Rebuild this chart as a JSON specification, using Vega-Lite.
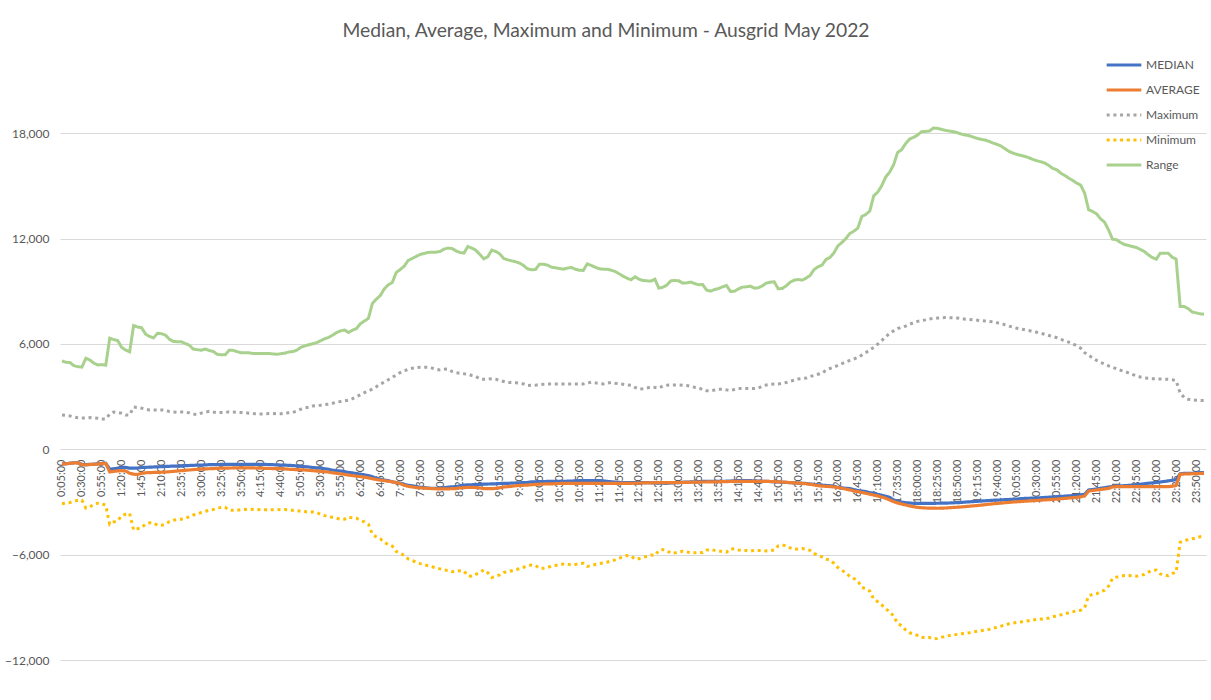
{
"$schema": "https://vega.github.io/schema/vega-lite/v6.json",
"width": 1146, "height": 562,
"autosize": {"type": "none"},
"padding": {"left": 60, "top": 98, "right": 5, "bottom": 40},
"background": "white",
"config": {"view": {"stroke": null}, "font": "Lato"},
"title": {"text": "Median, Average, Maximum and Minimum - Ausgrid May 2022", "anchor": "middle", "dx": -27, "offset": 5, "fontSize": 19.3, "font": "Lato", "fontWeight": "normal", "color": "#595959"},
"data": {"values": [
{"t":"0:05:00","MEDIAN":-840,"AVERAGE":-850,"Maximum":1955,"Minimum":-3100,"Range":5030},
{"t":"0:10:00","MEDIAN":-820,"AVERAGE":-830,"Maximum":1930,"Minimum":-3060,"Range":4950},
{"t":"0:15:00","MEDIAN":-800,"AVERAGE":-800,"Maximum":1898,"Minimum":-3030,"Range":4940},
{"t":"0:20:00","MEDIAN":-770,"AVERAGE":-780,"Maximum":1840,"Minimum":-2960,"Range":4760},
{"t":"0:25:00","MEDIAN":-765,"AVERAGE":-770,"Maximum":1800,"Minimum":-2900,"Range":4700},
{"t":"0:30:00","MEDIAN":-860,"AVERAGE":-880,"Maximum":1785,"Minimum":-2900,"Range":4680},
{"t":"0:35:00","MEDIAN":-880,"AVERAGE":-890,"Maximum":1784,"Minimum":-3350,"Range":5180},
{"t":"0:40:00","MEDIAN":-860,"AVERAGE":-870,"Maximum":1803,"Minimum":-3280,"Range":5080},
{"t":"0:45:00","MEDIAN":-850,"AVERAGE":-860,"Maximum":1780,"Minimum":-3150,"Range":4900},
{"t":"0:50:00","MEDIAN":-830,"AVERAGE":-840,"Maximum":1760,"Minimum":-3070,"Range":4800},
{"t":"0:55:00","MEDIAN":-810,"AVERAGE":-820,"Maximum":1720,"Minimum":-3090,"Range":4820},
{"t":"1:00:00","MEDIAN":-800,"AVERAGE":-810,"Maximum":1720,"Minimum":-3200,"Range":4785},
{"t":"1:05:00","MEDIAN":-1140,"AVERAGE":-1290,"Maximum":2000,"Minimum":-4280,"Range":6320},
{"t":"1:10:00","MEDIAN":-1110,"AVERAGE":-1260,"Maximum":2120,"Minimum":-4140,"Range":6250},
{"t":"1:15:00","MEDIAN":-1080,"AVERAGE":-1230,"Maximum":2090,"Minimum":-4080,"Range":6190},
{"t":"1:20:00","MEDIAN":-1030,"AVERAGE":-1220,"Maximum":2050,"Minimum":-3780,"Range":5800},
{"t":"1:25:00","MEDIAN":-1030,"AVERAGE":-1240,"Maximum":1950,"Minimum":-3700,"Range":5650},
{"t":"1:30:00","MEDIAN":-1080,"AVERAGE":-1370,"Maximum":1950,"Minimum":-3650,"Range":5545},
{"t":"1:35:00","MEDIAN":-1080,"AVERAGE":-1420,"Maximum":2400,"Minimum":-4600,"Range":7040},
{"t":"1:40:00","MEDIAN":-1070,"AVERAGE":-1440,"Maximum":2380,"Minimum":-4530,"Range":6960},
{"t":"1:45:00","MEDIAN":-1040,"AVERAGE":-1370,"Maximum":2340,"Minimum":-4460,"Range":6920},
{"t":"1:50:00","MEDIAN":-1030,"AVERAGE":-1340,"Maximum":2280,"Minimum":-4260,"Range":6560},
{"t":"1:55:00","MEDIAN":-1020,"AVERAGE":-1330,"Maximum":2240,"Minimum":-4190,"Range":6420},
{"t":"2:00:00","MEDIAN":-1010,"AVERAGE":-1320,"Maximum":2240,"Minimum":-4190,"Range":6340},
{"t":"2:05:00","MEDIAN":-1000,"AVERAGE":-1315,"Maximum":2240,"Minimum":-4330,"Range":6600},
{"t":"2:10:00","MEDIAN":-990,"AVERAGE":-1310,"Maximum":2240,"Minimum":-4330,"Range":6580},
{"t":"2:15:00","MEDIAN":-980,"AVERAGE":-1300,"Maximum":2220,"Minimum":-4265,"Range":6500},
{"t":"2:20:00","MEDIAN":-970,"AVERAGE":-1280,"Maximum":2145,"Minimum":-4118,"Range":6260},
{"t":"2:25:00","MEDIAN":-960,"AVERAGE":-1260,"Maximum":2120,"Minimum":-4040,"Range":6140},
{"t":"2:30:00","MEDIAN":-955,"AVERAGE":-1240,"Maximum":2110,"Minimum":-4010,"Range":6120},
{"t":"2:35:00","MEDIAN":-945,"AVERAGE":-1220,"Maximum":2120,"Minimum":-3980,"Range":6115},
{"t":"2:40:00","MEDIAN":-935,"AVERAGE":-1200,"Maximum":2110,"Minimum":-3930,"Range":6020},
{"t":"2:45:00","MEDIAN":-925,"AVERAGE":-1180,"Maximum":2070,"Minimum":-3850,"Range":5925},
{"t":"2:50:00","MEDIAN":-915,"AVERAGE":-1160,"Maximum":2000,"Minimum":-3744,"Range":5700},
{"t":"2:55:00","MEDIAN":-905,"AVERAGE":-1140,"Maximum":1974,"Minimum":-3680,"Range":5670},
{"t":"3:00:00","MEDIAN":-900,"AVERAGE":-1130,"Maximum":2060,"Minimum":-3600,"Range":5640},
{"t":"3:05:00","MEDIAN":-890,"AVERAGE":-1120,"Maximum":2110,"Minimum":-3530,"Range":5710},
{"t":"3:10:00","MEDIAN":-880,"AVERAGE":-1110,"Maximum":2160,"Minimum":-3470,"Range":5620},
{"t":"3:15:00","MEDIAN":-875,"AVERAGE":-1100,"Maximum":2120,"Minimum":-3430,"Range":5570},
{"t":"3:20:00","MEDIAN":-870,"AVERAGE":-1090,"Maximum":2088,"Minimum":-3370,"Range":5410},
{"t":"3:25:00","MEDIAN":-865,"AVERAGE":-1080,"Maximum":2088,"Minimum":-3310,"Range":5380},
{"t":"3:30:00","MEDIAN":-860,"AVERAGE":-1075,"Maximum":2090,"Minimum":-3300,"Range":5375},
{"t":"3:35:00","MEDIAN":-858,"AVERAGE":-1070,"Maximum":2130,"Minimum":-3465,"Range":5640},
{"t":"3:40:00","MEDIAN":-856,"AVERAGE":-1065,"Maximum":2120,"Minimum":-3480,"Range":5630},
{"t":"3:45:00","MEDIAN":-856,"AVERAGE":-1065,"Maximum":2100,"Minimum":-3480,"Range":5560},
{"t":"3:50:00","MEDIAN":-856,"AVERAGE":-1065,"Maximum":2090,"Minimum":-3440,"Range":5490},
{"t":"3:55:00","MEDIAN":-856,"AVERAGE":-1065,"Maximum":2085,"Minimum":-3420,"Range":5490},
{"t":"4:00:00","MEDIAN":-856,"AVERAGE":-1065,"Maximum":2050,"Minimum":-3430,"Range":5490},
{"t":"4:05:00","MEDIAN":-856,"AVERAGE":-1065,"Maximum":2030,"Minimum":-3420,"Range":5450},
{"t":"4:10:00","MEDIAN":-856,"AVERAGE":-1070,"Maximum":2020,"Minimum":-3430,"Range":5450},
{"t":"4:15:00","MEDIAN":-860,"AVERAGE":-1075,"Maximum":2010,"Minimum":-3445,"Range":5450},
{"t":"4:20:00","MEDIAN":-865,"AVERAGE":-1085,"Maximum":2020,"Minimum":-3450,"Range":5450},
{"t":"4:25:00","MEDIAN":-870,"AVERAGE":-1095,"Maximum":2030,"Minimum":-3450,"Range":5450},
{"t":"4:30:00","MEDIAN":-880,"AVERAGE":-1100,"Maximum":2030,"Minimum":-3440,"Range":5430},
{"t":"4:35:00","MEDIAN":-890,"AVERAGE":-1105,"Maximum":2015,"Minimum":-3430,"Range":5410},
{"t":"4:40:00","MEDIAN":-900,"AVERAGE":-1110,"Maximum":2020,"Minimum":-3440,"Range":5440},
{"t":"4:45:00","MEDIAN":-905,"AVERAGE":-1120,"Maximum":2060,"Minimum":-3430,"Range":5470},
{"t":"4:50:00","MEDIAN":-915,"AVERAGE":-1140,"Maximum":2080,"Minimum":-3460,"Range":5540},
{"t":"4:55:00","MEDIAN":-930,"AVERAGE":-1150,"Maximum":2100,"Minimum":-3480,"Range":5560},
{"t":"5:00:00","MEDIAN":-950,"AVERAGE":-1160,"Maximum":2180,"Minimum":-3500,"Range":5640},
{"t":"5:05:00","MEDIAN":-970,"AVERAGE":-1170,"Maximum":2280,"Minimum":-3530,"Range":5800},
{"t":"5:10:00","MEDIAN":-990,"AVERAGE":-1180,"Maximum":2350,"Minimum":-3550,"Range":5880},
{"t":"5:15:00","MEDIAN":-1010,"AVERAGE":-1200,"Maximum":2390,"Minimum":-3580,"Range":5950},
{"t":"5:20:00","MEDIAN":-1040,"AVERAGE":-1220,"Maximum":2460,"Minimum":-3570,"Range":6010},
{"t":"5:25:00","MEDIAN":-1060,"AVERAGE":-1240,"Maximum":2490,"Minimum":-3600,"Range":6070},
{"t":"5:30:00","MEDIAN":-1080,"AVERAGE":-1260,"Maximum":2506,"Minimum":-3700,"Range":6180},
{"t":"5:35:00","MEDIAN":-1110,"AVERAGE":-1280,"Maximum":2540,"Minimum":-3780,"Range":6290},
{"t":"5:40:00","MEDIAN":-1140,"AVERAGE":-1300,"Maximum":2570,"Minimum":-3820,"Range":6370},
{"t":"5:45:00","MEDIAN":-1190,"AVERAGE":-1340,"Maximum":2620,"Minimum":-3880,"Range":6500},
{"t":"5:50:00","MEDIAN":-1220,"AVERAGE":-1370,"Maximum":2680,"Minimum":-3930,"Range":6640},
{"t":"5:55:00","MEDIAN":-1240,"AVERAGE":-1400,"Maximum":2715,"Minimum":-3990,"Range":6740},
{"t":"6:00:00","MEDIAN":-1270,"AVERAGE":-1430,"Maximum":2750,"Minimum":-3980,"Range":6790},
{"t":"6:05:00","MEDIAN":-1320,"AVERAGE":-1470,"Maximum":2800,"Minimum":-3860,"Range":6650},
{"t":"6:10:00","MEDIAN":-1350,"AVERAGE":-1500,"Maximum":2880,"Minimum":-3910,"Range":6780},
{"t":"6:15:00","MEDIAN":-1380,"AVERAGE":-1530,"Maximum":2990,"Minimum":-3930,"Range":6870},
{"t":"6:20:00","MEDIAN":-1420,"AVERAGE":-1560,"Maximum":3100,"Minimum":-4065,"Range":7150},
{"t":"6:25:00","MEDIAN":-1460,"AVERAGE":-1590,"Maximum":3220,"Minimum":-4130,"Range":7300},
{"t":"6:30:00","MEDIAN":-1500,"AVERAGE":-1630,"Maximum":3320,"Minimum":-4270,"Range":7450},
{"t":"6:35:00","MEDIAN":-1560,"AVERAGE":-1680,"Maximum":3420,"Minimum":-4840,"Range":8300},
{"t":"6:40:00","MEDIAN":-1650,"AVERAGE":-1720,"Maximum":3560,"Minimum":-4995,"Range":8550},
{"t":"6:45:00","MEDIAN":-1700,"AVERAGE":-1760,"Maximum":3710,"Minimum":-5100,"Range":8755},
{"t":"6:50:00","MEDIAN":-1760,"AVERAGE":-1790,"Maximum":3825,"Minimum":-5300,"Range":9134},
{"t":"6:55:00","MEDIAN":-1790,"AVERAGE":-1820,"Maximum":3955,"Minimum":-5420,"Range":9362},
{"t":"7:00:00","MEDIAN":-1850,"AVERAGE":-1860,"Maximum":4085,"Minimum":-5510,"Range":9495},
{"t":"7:05:00","MEDIAN":-1900,"AVERAGE":-1900,"Maximum":4235,"Minimum":-5820,"Range":10065},
{"t":"7:10:00","MEDIAN":-1940,"AVERAGE":-1960,"Maximum":4365,"Minimum":-5920,"Range":10236},
{"t":"7:15:00","MEDIAN":-2000,"AVERAGE":-2050,"Maximum":4470,"Minimum":-6050,"Range":10426},
{"t":"7:20:00","MEDIAN":-2050,"AVERAGE":-2110,"Maximum":4540,"Minimum":-6250,"Range":10749},
{"t":"7:25:00","MEDIAN":-2080,"AVERAGE":-2150,"Maximum":4610,"Minimum":-6340,"Range":10862},
{"t":"7:30:00","MEDIAN":-2120,"AVERAGE":-2180,"Maximum":4640,"Minimum":-6420,"Range":10977},
{"t":"7:35:00","MEDIAN":-2160,"AVERAGE":-2200,"Maximum":4670,"Minimum":-6510,"Range":11090},
{"t":"7:40:00","MEDIAN":-2180,"AVERAGE":-2210,"Maximum":4671,"Minimum":-6580,"Range":11148},
{"t":"7:45:00","MEDIAN":-2210,"AVERAGE":-2230,"Maximum":4671,"Minimum":-6630,"Range":11205},
{"t":"7:50:00","MEDIAN":-2224,"AVERAGE":-2240,"Maximum":4620,"Minimum":-6690,"Range":11223},
{"t":"7:55:00","MEDIAN":-2224,"AVERAGE":-2250,"Maximum":4560,"Minimum":-6750,"Range":11223},
{"t":"8:00:00","MEDIAN":-2224,"AVERAGE":-2260,"Maximum":4519,"Minimum":-6810,"Range":11262},
{"t":"8:05:00","MEDIAN":-2190,"AVERAGE":-2262,"Maximum":4560,"Minimum":-6875,"Range":11395},
{"t":"8:10:00","MEDIAN":-2160,"AVERAGE":-2255,"Maximum":4570,"Minimum":-6900,"Range":11452},
{"t":"8:15:00","MEDIAN":-2140,"AVERAGE":-2245,"Maximum":4430,"Minimum":-6970,"Range":11432},
{"t":"8:20:00","MEDIAN":-2129,"AVERAGE":-2240,"Maximum":4360,"Minimum":-6945,"Range":11300},
{"t":"8:25:00","MEDIAN":-2080,"AVERAGE":-2200,"Maximum":4330,"Minimum":-6920,"Range":11205},
{"t":"8:30:00","MEDIAN":-2040,"AVERAGE":-2186,"Maximum":4300,"Minimum":-6930,"Range":11167},
{"t":"8:35:00","MEDIAN":-2030,"AVERAGE":-2170,"Maximum":4280,"Minimum":-7210,"Range":11546},
{"t":"8:40:00","MEDIAN":-2020,"AVERAGE":-2168,"Maximum":4200,"Minimum":-7226,"Range":11452},
{"t":"8:45:00","MEDIAN":-2010,"AVERAGE":-2180,"Maximum":4150,"Minimum":-7120,"Range":11337},
{"t":"8:50:00","MEDIAN":-2000,"AVERAGE":-2200,"Maximum":4000,"Minimum":-7020,"Range":11090},
{"t":"8:55:00","MEDIAN":-1990,"AVERAGE":-2240,"Maximum":3987,"Minimum":-6870,"Range":10844},
{"t":"9:00:00","MEDIAN":-1980,"AVERAGE":-2243,"Maximum":3990,"Minimum":-7030,"Range":10958},
{"t":"9:05:00","MEDIAN":-1975,"AVERAGE":-2243,"Maximum":4020,"Minimum":-7300,"Range":11337},
{"t":"9:10:00","MEDIAN":-1965,"AVERAGE":-2230,"Maximum":3990,"Minimum":-7240,"Range":11262},
{"t":"9:15:00","MEDIAN":-1950,"AVERAGE":-2190,"Maximum":3920,"Minimum":-7150,"Range":11129},
{"t":"9:20:00","MEDIAN":-1945,"AVERAGE":-2150,"Maximum":3860,"Minimum":-7015,"Range":10862},
{"t":"9:25:00","MEDIAN":-1940,"AVERAGE":-2130,"Maximum":3800,"Minimum":-6980,"Range":10787},
{"t":"9:30:00","MEDIAN":-1930,"AVERAGE":-2110,"Maximum":3797,"Minimum":-6915,"Range":10730},
{"t":"9:35:00","MEDIAN":-1920,"AVERAGE":-2080,"Maximum":3790,"Minimum":-6860,"Range":10673},
{"t":"9:40:00","MEDIAN":-1910,"AVERAGE":-2060,"Maximum":3760,"Minimum":-6800,"Range":10597},
{"t":"9:45:00","MEDIAN":-1900,"AVERAGE":-2050,"Maximum":3720,"Minimum":-6720,"Range":10464},
{"t":"9:50:00","MEDIAN":-1890,"AVERAGE":-2040,"Maximum":3630,"Minimum":-6640,"Range":10274},
{"t":"9:55:00","MEDIAN":-1860,"AVERAGE":-2020,"Maximum":3640,"Minimum":-6590,"Range":10217},
{"t":"10:00:00","MEDIAN":-1850,"AVERAGE":-2000,"Maximum":3650,"Minimum":-6620,"Range":10236},
{"t":"10:05:00","MEDIAN":-1845,"AVERAGE":-1990,"Maximum":3680,"Minimum":-6780,"Range":10540},
{"t":"10:10:00","MEDIAN":-1840,"AVERAGE":-1980,"Maximum":3700,"Minimum":-6780,"Range":10540},
{"t":"10:15:00","MEDIAN":-1830,"AVERAGE":-1975,"Maximum":3721,"Minimum":-6730,"Range":10483},
{"t":"10:20:00","MEDIAN":-1825,"AVERAGE":-1970,"Maximum":3721,"Minimum":-6650,"Range":10369},
{"t":"10:25:00","MEDIAN":-1825,"AVERAGE":-1960,"Maximum":3721,"Minimum":-6615,"Range":10331},
{"t":"10:30:00","MEDIAN":-1825,"AVERAGE":-1950,"Maximum":3721,"Minimum":-6580,"Range":10293},
{"t":"10:35:00","MEDIAN":-1825,"AVERAGE":-1945,"Maximum":3721,"Minimum":-6537,"Range":10255},
{"t":"10:40:00","MEDIAN":-1820,"AVERAGE":-1940,"Maximum":3721,"Minimum":-6545,"Range":10312},
{"t":"10:45:00","MEDIAN":-1810,"AVERAGE":-1939,"Maximum":3721,"Minimum":-6590,"Range":10350},
{"t":"10:50:00","MEDIAN":-1800,"AVERAGE":-1939,"Maximum":3721,"Minimum":-6560,"Range":10255},
{"t":"10:55:00","MEDIAN":-1790,"AVERAGE":-1939,"Maximum":3721,"Minimum":-6520,"Range":10198},
{"t":"11:00:00","MEDIAN":-1787,"AVERAGE":-1939,"Maximum":3721,"Minimum":-6500,"Range":10179},
{"t":"11:05:00","MEDIAN":-1787,"AVERAGE":-1939,"Maximum":3770,"Minimum":-6670,"Range":10559},
{"t":"11:10:00","MEDIAN":-1787,"AVERAGE":-1939,"Maximum":3816,"Minimum":-6620,"Range":10464},
{"t":"11:15:00","MEDIAN":-1787,"AVERAGE":-1939,"Maximum":3780,"Minimum":-6565,"Range":10369},
{"t":"11:20:00","MEDIAN":-1787,"AVERAGE":-1939,"Maximum":3740,"Minimum":-6510,"Range":10274},
{"t":"11:25:00","MEDIAN":-1800,"AVERAGE":-1939,"Maximum":3721,"Minimum":-6480,"Range":10255},
{"t":"11:30:00","MEDIAN":-1830,"AVERAGE":-1939,"Maximum":3760,"Minimum":-6430,"Range":10255},
{"t":"11:35:00","MEDIAN":-1850,"AVERAGE":-1939,"Maximum":3800,"Minimum":-6360,"Range":10198},
{"t":"11:40:00","MEDIAN":-1870,"AVERAGE":-1939,"Maximum":3760,"Minimum":-6300,"Range":10122},
{"t":"11:45:00","MEDIAN":-1890,"AVERAGE":-1939,"Maximum":3730,"Minimum":-6210,"Range":9989},
{"t":"11:50:00","MEDIAN":-1901,"AVERAGE":-1939,"Maximum":3700,"Minimum":-6120,"Range":9856},
{"t":"11:55:00","MEDIAN":-1901,"AVERAGE":-1939,"Maximum":3670,"Minimum":-6050,"Range":9742},
{"t":"12:00:00","MEDIAN":-1901,"AVERAGE":-1939,"Maximum":3645,"Minimum":-6080,"Range":9647},
{"t":"12:05:00","MEDIAN":-1901,"AVERAGE":-1935,"Maximum":3520,"Minimum":-6260,"Range":9818},
{"t":"12:10:00","MEDIAN":-1901,"AVERAGE":-1925,"Maximum":3420,"Minimum":-6230,"Range":9685},
{"t":"12:15:00","MEDIAN":-1901,"AVERAGE":-1920,"Maximum":3450,"Minimum":-6157,"Range":9609},
{"t":"12:20:00","MEDIAN":-1901,"AVERAGE":-1915,"Maximum":3490,"Minimum":-6095,"Range":9590},
{"t":"12:25:00","MEDIAN":-1910,"AVERAGE":-1910,"Maximum":3540,"Minimum":-6027,"Range":9571},
{"t":"12:30:00","MEDIAN":-1920,"AVERAGE":-1905,"Maximum":3520,"Minimum":-6050,"Range":9685},
{"t":"12:35:00","MEDIAN":-1930,"AVERAGE":-1901,"Maximum":3480,"Minimum":-5760,"Range":9172},
{"t":"12:40:00","MEDIAN":-1935,"AVERAGE":-1901,"Maximum":3600,"Minimum":-5710,"Range":9229},
{"t":"12:45:00","MEDIAN":-1939,"AVERAGE":-1901,"Maximum":3650,"Minimum":-5770,"Range":9343},
{"t":"12:50:00","MEDIAN":-1920,"AVERAGE":-1901,"Maximum":3664,"Minimum":-5923,"Range":9590},
{"t":"12:55:00","MEDIAN":-1910,"AVERAGE":-1901,"Maximum":3664,"Minimum":-5900,"Range":9609},
{"t":"13:00:00","MEDIAN":-1900,"AVERAGE":-1895,"Maximum":3664,"Minimum":-5850,"Range":9590},
{"t":"13:05:00","MEDIAN":-1880,"AVERAGE":-1890,"Maximum":3650,"Minimum":-5803,"Range":9457},
{"t":"13:10:00","MEDIAN":-1870,"AVERAGE":-1885,"Maximum":3630,"Minimum":-5840,"Range":9476},
{"t":"13:15:00","MEDIAN":-1860,"AVERAGE":-1880,"Maximum":3580,"Minimum":-5900,"Range":9514},
{"t":"13:20:00","MEDIAN":-1850,"AVERAGE":-1875,"Maximum":3530,"Minimum":-5900,"Range":9438},
{"t":"13:25:00","MEDIAN":-1840,"AVERAGE":-1870,"Maximum":3500,"Minimum":-5850,"Range":9362},
{"t":"13:30:00","MEDIAN":-1830,"AVERAGE":-1865,"Maximum":3400,"Minimum":-5890,"Range":9381},
{"t":"13:35:00","MEDIAN":-1825,"AVERAGE":-1863,"Maximum":3325,"Minimum":-5745,"Range":9058},
{"t":"13:40:00","MEDIAN":-1825,"AVERAGE":-1860,"Maximum":3330,"Minimum":-5705,"Range":9001},
{"t":"13:45:00","MEDIAN":-1825,"AVERAGE":-1855,"Maximum":3370,"Minimum":-5758,"Range":9096},
{"t":"13:50:00","MEDIAN":-1825,"AVERAGE":-1850,"Maximum":3417,"Minimum":-5785,"Range":9153},
{"t":"13:55:00","MEDIAN":-1825,"AVERAGE":-1845,"Maximum":3417,"Minimum":-5832,"Range":9248},
{"t":"14:00:00","MEDIAN":-1820,"AVERAGE":-1840,"Maximum":3380,"Minimum":-5860,"Range":9324},
{"t":"14:05:00","MEDIAN":-1810,"AVERAGE":-1835,"Maximum":3340,"Minimum":-5670,"Range":8982},
{"t":"14:10:00","MEDIAN":-1800,"AVERAGE":-1830,"Maximum":3400,"Minimum":-5675,"Range":9001},
{"t":"14:15:00","MEDIAN":-1787,"AVERAGE":-1825,"Maximum":3455,"Minimum":-5737,"Range":9134},
{"t":"14:20:00","MEDIAN":-1787,"AVERAGE":-1825,"Maximum":3455,"Minimum":-5767,"Range":9229},
{"t":"14:25:00","MEDIAN":-1787,"AVERAGE":-1825,"Maximum":3455,"Minimum":-5765,"Range":9248},
{"t":"14:30:00","MEDIAN":-1790,"AVERAGE":-1825,"Maximum":3455,"Minimum":-5800,"Range":9286},
{"t":"14:35:00","MEDIAN":-1800,"AVERAGE":-1825,"Maximum":3460,"Minimum":-5753,"Range":9172},
{"t":"14:40:00","MEDIAN":-1810,"AVERAGE":-1825,"Maximum":3480,"Minimum":-5763,"Range":9191},
{"t":"14:45:00","MEDIAN":-1820,"AVERAGE":-1825,"Maximum":3600,"Minimum":-5770,"Range":9305},
{"t":"14:50:00","MEDIAN":-1825,"AVERAGE":-1825,"Maximum":3660,"Minimum":-5790,"Range":9457},
{"t":"14:55:00","MEDIAN":-1840,"AVERAGE":-1835,"Maximum":3700,"Minimum":-5776,"Range":9514},
{"t":"15:00:00","MEDIAN":-1850,"AVERAGE":-1845,"Maximum":3721,"Minimum":-5736,"Range":9533},
{"t":"15:05:00","MEDIAN":-1860,"AVERAGE":-1855,"Maximum":3721,"Minimum":-5500,"Range":9134},
{"t":"15:10:00","MEDIAN":-1875,"AVERAGE":-1865,"Maximum":3760,"Minimum":-5460,"Range":9153},
{"t":"15:15:00","MEDIAN":-1890,"AVERAGE":-1880,"Maximum":3797,"Minimum":-5490,"Range":9305},
{"t":"15:20:00","MEDIAN":-1900,"AVERAGE":-1900,"Maximum":3870,"Minimum":-5620,"Range":9514},
{"t":"15:25:00","MEDIAN":-1915,"AVERAGE":-1915,"Maximum":3930,"Minimum":-5700,"Range":9628},
{"t":"15:30:00","MEDIAN":-1925,"AVERAGE":-1930,"Maximum":4000,"Minimum":-5683,"Range":9666},
{"t":"15:35:00","MEDIAN":-1935,"AVERAGE":-1945,"Maximum":4030,"Minimum":-5650,"Range":9628},
{"t":"15:40:00","MEDIAN":-1950,"AVERAGE":-1965,"Maximum":4050,"Minimum":-5696,"Range":9742},
{"t":"15:45:00","MEDIAN":-1977,"AVERAGE":-1995,"Maximum":4140,"Minimum":-5760,"Range":9894},
{"t":"15:50:00","MEDIAN":-2000,"AVERAGE":-2030,"Maximum":4200,"Minimum":-5930,"Range":10236},
{"t":"15:55:00","MEDIAN":-2025,"AVERAGE":-2070,"Maximum":4270,"Minimum":-6040,"Range":10388},
{"t":"16:00:00","MEDIAN":-2045,"AVERAGE":-2100,"Maximum":4330,"Minimum":-6130,"Range":10483},
{"t":"16:05:00","MEDIAN":-2060,"AVERAGE":-2110,"Maximum":4500,"Minimum":-6260,"Range":10806},
{"t":"16:10:00","MEDIAN":-2080,"AVERAGE":-2125,"Maximum":4600,"Minimum":-6310,"Range":10920},
{"t":"16:15:00","MEDIAN":-2100,"AVERAGE":-2150,"Maximum":4680,"Minimum":-6500,"Range":11185},
{"t":"16:20:00","MEDIAN":-2180,"AVERAGE":-2180,"Maximum":4780,"Minimum":-6740,"Range":11584},
{"t":"16:25:00","MEDIAN":-2200,"AVERAGE":-2220,"Maximum":4870,"Minimum":-6890,"Range":11774},
{"t":"16:30:00","MEDIAN":-2220,"AVERAGE":-2270,"Maximum":4974,"Minimum":-7050,"Range":12002},
{"t":"16:35:00","MEDIAN":-2243,"AVERAGE":-2319,"Maximum":5060,"Minimum":-7240,"Range":12287},
{"t":"16:40:00","MEDIAN":-2300,"AVERAGE":-2380,"Maximum":5140,"Minimum":-7360,"Range":12420},
{"t":"16:45:00","MEDIAN":-2350,"AVERAGE":-2414,"Maximum":5230,"Minimum":-7500,"Range":12591},
{"t":"16:50:00","MEDIAN":-2380,"AVERAGE":-2460,"Maximum":5360,"Minimum":-7860,"Range":13255},
{"t":"16:55:00","MEDIAN":-2410,"AVERAGE":-2509,"Maximum":5500,"Minimum":-7950,"Range":13369},
{"t":"17:00:00","MEDIAN":-2470,"AVERAGE":-2560,"Maximum":5660,"Minimum":-8080,"Range":13559},
{"t":"17:05:00","MEDIAN":-2510,"AVERAGE":-2604,"Maximum":5800,"Minimum":-8540,"Range":14433},
{"t":"17:10:00","MEDIAN":-2570,"AVERAGE":-2660,"Maximum":5980,"Minimum":-8680,"Range":14642},
{"t":"17:15:00","MEDIAN":-2620,"AVERAGE":-2720,"Maximum":6190,"Minimum":-8860,"Range":15003},
{"t":"17:20:00","MEDIAN":-2680,"AVERAGE":-2790,"Maximum":6400,"Minimum":-9090,"Range":15497},
{"t":"17:25:00","MEDIAN":-2740,"AVERAGE":-2889,"Maximum":6600,"Minimum":-9230,"Range":15781},
{"t":"17:30:00","MEDIAN":-2890,"AVERAGE":-2980,"Maximum":6740,"Minimum":-9510,"Range":16199},
{"t":"17:35:00","MEDIAN":-2960,"AVERAGE":-3060,"Maximum":6870,"Minimum":-9920,"Range":16902},
{"t":"17:40:00","MEDIAN":-3010,"AVERAGE":-3117,"Maximum":6950,"Minimum":-10050,"Range":17054},
{"t":"17:45:00","MEDIAN":-3040,"AVERAGE":-3170,"Maximum":7010,"Minimum":-10290,"Range":17396},
{"t":"17:50:00","MEDIAN":-3060,"AVERAGE":-3231,"Maximum":7120,"Minimum":-10450,"Range":17662},
{"t":"17:55:00","MEDIAN":-3079,"AVERAGE":-3270,"Maximum":7200,"Minimum":-10520,"Range":17757},
{"t":"18:00:00","MEDIAN":-3079,"AVERAGE":-3307,"Maximum":7280,"Minimum":-10600,"Range":17890},
{"t":"18:05:00","MEDIAN":-3079,"AVERAGE":-3330,"Maximum":7320,"Minimum":-10720,"Range":18080},
{"t":"18:10:00","MEDIAN":-3079,"AVERAGE":-3345,"Maximum":7367,"Minimum":-10720,"Range":18099},
{"t":"18:15:00","MEDIAN":-3079,"AVERAGE":-3350,"Maximum":7420,"Minimum":-10720,"Range":18118},
{"t":"18:20:00","MEDIAN":-3079,"AVERAGE":-3355,"Maximum":7450,"Minimum":-10800,"Range":18289},
{"t":"18:25:00","MEDIAN":-3075,"AVERAGE":-3360,"Maximum":7470,"Minimum":-10770,"Range":18270},
{"t":"18:30:00","MEDIAN":-3070,"AVERAGE":-3355,"Maximum":7490,"Minimum":-10710,"Range":18213},
{"t":"18:35:00","MEDIAN":-3065,"AVERAGE":-3345,"Maximum":7500,"Minimum":-10650,"Range":18156},
{"t":"18:40:00","MEDIAN":-3060,"AVERAGE":-3330,"Maximum":7490,"Minimum":-10610,"Range":18118},
{"t":"18:45:00","MEDIAN":-3050,"AVERAGE":-3315,"Maximum":7481,"Minimum":-10580,"Range":18080},
{"t":"18:50:00","MEDIAN":-3040,"AVERAGE":-3300,"Maximum":7470,"Minimum":-10540,"Range":18023},
{"t":"18:55:00","MEDIAN":-3030,"AVERAGE":-3285,"Maximum":7440,"Minimum":-10505,"Range":17947},
{"t":"19:00:00","MEDIAN":-3010,"AVERAGE":-3265,"Maximum":7405,"Minimum":-10486,"Range":17890},
{"t":"19:05:00","MEDIAN":-2995,"AVERAGE":-3245,"Maximum":7390,"Minimum":-10455,"Range":17852},
{"t":"19:10:00","MEDIAN":-2980,"AVERAGE":-3225,"Maximum":7370,"Minimum":-10408,"Range":17776},
{"t":"19:15:00","MEDIAN":-2965,"AVERAGE":-3205,"Maximum":7350,"Minimum":-10360,"Range":17700},
{"t":"19:20:00","MEDIAN":-2950,"AVERAGE":-3180,"Maximum":7320,"Minimum":-10330,"Range":17643},
{"t":"19:25:00","MEDIAN":-2935,"AVERAGE":-3155,"Maximum":7300,"Minimum":-10300,"Range":17605},
{"t":"19:30:00","MEDIAN":-2920,"AVERAGE":-3130,"Maximum":7270,"Minimum":-10258,"Range":17529},
{"t":"19:35:00","MEDIAN":-2905,"AVERAGE":-3105,"Maximum":7250,"Minimum":-10190,"Range":17434},
{"t":"19:40:00","MEDIAN":-2895,"AVERAGE":-3085,"Maximum":7200,"Minimum":-10140,"Range":17358},
{"t":"19:45:00","MEDIAN":-2885,"AVERAGE":-3065,"Maximum":7170,"Minimum":-10070,"Range":17263},
{"t":"19:50:00","MEDIAN":-2870,"AVERAGE":-3045,"Maximum":7080,"Minimum":-10010,"Range":17111},
{"t":"19:55:00","MEDIAN":-2860,"AVERAGE":-3025,"Maximum":7010,"Minimum":-9940,"Range":16959},
{"t":"20:00:00","MEDIAN":-2845,"AVERAGE":-3005,"Maximum":6950,"Minimum":-9900,"Range":16864},
{"t":"20:05:00","MEDIAN":-2835,"AVERAGE":-2990,"Maximum":6890,"Minimum":-9860,"Range":16788},
{"t":"20:10:00","MEDIAN":-2815,"AVERAGE":-2975,"Maximum":6850,"Minimum":-9830,"Range":16731},
{"t":"20:15:00","MEDIAN":-2800,"AVERAGE":-2960,"Maximum":6800,"Minimum":-9800,"Range":16674},
{"t":"20:20:00","MEDIAN":-2790,"AVERAGE":-2945,"Maximum":6760,"Minimum":-9760,"Range":16598},
{"t":"20:25:00","MEDIAN":-2780,"AVERAGE":-2930,"Maximum":6700,"Minimum":-9720,"Range":16503},
{"t":"20:30:00","MEDIAN":-2770,"AVERAGE":-2915,"Maximum":6660,"Minimum":-9690,"Range":16427},
{"t":"20:35:00","MEDIAN":-2760,"AVERAGE":-2900,"Maximum":6600,"Minimum":-9670,"Range":16370},
{"t":"20:40:00","MEDIAN":-2745,"AVERAGE":-2885,"Maximum":6540,"Minimum":-9650,"Range":16294},
{"t":"20:45:00","MEDIAN":-2730,"AVERAGE":-2870,"Maximum":6480,"Minimum":-9610,"Range":16161},
{"t":"20:50:00","MEDIAN":-2715,"AVERAGE":-2855,"Maximum":6420,"Minimum":-9530,"Range":15990},
{"t":"20:55:00","MEDIAN":-2700,"AVERAGE":-2840,"Maximum":6350,"Minimum":-9500,"Range":15914},
{"t":"21:00:00","MEDIAN":-2685,"AVERAGE":-2820,"Maximum":6260,"Minimum":-9430,"Range":15724},
{"t":"21:05:00","MEDIAN":-2670,"AVERAGE":-2800,"Maximum":6180,"Minimum":-9375,"Range":15591},
{"t":"21:10:00","MEDIAN":-2655,"AVERAGE":-2780,"Maximum":6100,"Minimum":-9315,"Range":15440},
{"t":"21:15:00","MEDIAN":-2640,"AVERAGE":-2760,"Maximum":6000,"Minimum":-9260,"Range":15307},
{"t":"21:20:00","MEDIAN":-2620,"AVERAGE":-2740,"Maximum":5900,"Minimum":-9200,"Range":15155},
{"t":"21:25:00","MEDIAN":-2600,"AVERAGE":-2710,"Maximum":5750,"Minimum":-9170,"Range":15041},
{"t":"21:30:00","MEDIAN":-2560,"AVERAGE":-2660,"Maximum":5500,"Minimum":-9030,"Range":14585},
{"t":"21:35:00","MEDIAN":-2320,"AVERAGE":-2380,"Maximum":5350,"Minimum":-8340,"Range":13635},
{"t":"21:40:00","MEDIAN":-2290,"AVERAGE":-2350,"Maximum":5200,"Minimum":-8270,"Range":13540},
{"t":"21:45:00","MEDIAN":-2260,"AVERAGE":-2319,"Maximum":5060,"Minimum":-8230,"Range":13407},
{"t":"21:50:00","MEDIAN":-2224,"AVERAGE":-2290,"Maximum":4950,"Minimum":-8110,"Range":13122},
{"t":"21:55:00","MEDIAN":-2190,"AVERAGE":-2260,"Maximum":4850,"Minimum":-8030,"Range":12932},
{"t":"22:00:00","MEDIAN":-2150,"AVERAGE":-2230,"Maximum":4750,"Minimum":-7800,"Range":12496},
{"t":"22:05:00","MEDIAN":-2120,"AVERAGE":-2150,"Maximum":4670,"Minimum":-7350,"Range":11964},
{"t":"22:10:00","MEDIAN":-2100,"AVERAGE":-2129,"Maximum":4580,"Minimum":-7280,"Range":11926},
{"t":"22:15:00","MEDIAN":-2090,"AVERAGE":-2129,"Maximum":4500,"Minimum":-7230,"Range":11774},
{"t":"22:20:00","MEDIAN":-2075,"AVERAGE":-2129,"Maximum":4430,"Minimum":-7195,"Range":11660},
{"t":"22:25:00","MEDIAN":-2060,"AVERAGE":-2129,"Maximum":4350,"Minimum":-7185,"Range":11603},
{"t":"22:30:00","MEDIAN":-2040,"AVERAGE":-2129,"Maximum":4260,"Minimum":-7200,"Range":11546},
{"t":"22:35:00","MEDIAN":-2020,"AVERAGE":-2129,"Maximum":4180,"Minimum":-7230,"Range":11489},
{"t":"22:40:00","MEDIAN":-1995,"AVERAGE":-2129,"Maximum":4110,"Minimum":-7190,"Range":11375},
{"t":"22:45:00","MEDIAN":-1965,"AVERAGE":-2129,"Maximum":4060,"Minimum":-7130,"Range":11261},
{"t":"22:50:00","MEDIAN":-1935,"AVERAGE":-2129,"Maximum":4040,"Minimum":-7000,"Range":11071},
{"t":"22:55:00","MEDIAN":-1915,"AVERAGE":-2129,"Maximum":4020,"Minimum":-6890,"Range":10919},
{"t":"23:00:00","MEDIAN":-1890,"AVERAGE":-2129,"Maximum":4010,"Minimum":-6880,"Range":10824},
{"t":"23:05:00","MEDIAN":-1863,"AVERAGE":-2129,"Maximum":4000,"Minimum":-7100,"Range":11166},
{"t":"23:10:00","MEDIAN":-1835,"AVERAGE":-2129,"Maximum":3990,"Minimum":-7150,"Range":11166},
{"t":"23:15:00","MEDIAN":-1800,"AVERAGE":-2129,"Maximum":3980,"Minimum":-7200,"Range":11166},
{"t":"23:20:00","MEDIAN":-1770,"AVERAGE":-2110,"Maximum":3960,"Minimum":-7080,"Range":10938},
{"t":"23:25:00","MEDIAN":-1730,"AVERAGE":-2060,"Maximum":3900,"Minimum":-7000,"Range":10824},
{"t":"23:30:00","MEDIAN":-1400,"AVERAGE":-1426,"Maximum":3200,"Minimum":-5300,"Range":8127},
{"t":"23:35:00","MEDIAN":-1369,"AVERAGE":-1410,"Maximum":2950,"Minimum":-5200,"Range":8127},
{"t":"23:40:00","MEDIAN":-1369,"AVERAGE":-1400,"Maximum":2850,"Minimum":-5150,"Range":8013},
{"t":"23:45:00","MEDIAN":-1369,"AVERAGE":-1395,"Maximum":2810,"Minimum":-5100,"Range":7823},
{"t":"23:50:00","MEDIAN":-1350,"AVERAGE":-1388,"Maximum":2790,"Minimum":-5050,"Range":7766},
{"t":"23:55:00","MEDIAN":-1331,"AVERAGE":-1380,"Maximum":2780,"Minimum":-4980,"Range":7709},
{"t":"0:00:00","MEDIAN":-1331,"AVERAGE":-1369,"Maximum":2770,"Minimum":-4950,"Range":7690}
]},
"transform": [{"fold": ["MEDIAN", "AVERAGE", "Maximum", "Minimum", "Range"], "as": ["series", "value"]}],
"encoding": {
  "x": {"field": "t", "type": "ordinal", "sort": null, "scale": {"type": "point", "padding": 0.5},
    "axis": {"title": null, "offset": -211, "domain": false, "ticks": false, "grid": false, "labelAngle": -90, "labelPadding": 10, "labelOverlap": false, "labelFlush": false, "labelFont": "Lato", "labelFontSize": 11, "labelColor": "#595959",
      "values": ["0:05:00","0:30:00","0:55:00","1:20:00","1:45:00","2:10:00","2:35:00","3:00:00","3:25:00","3:50:00","4:15:00","4:40:00","5:05:00","5:30:00","5:55:00","6:20:00","6:45:00","7:10:00","7:35:00","8:00:00","8:25:00","8:50:00","9:15:00","9:40:00","10:05:00","10:30:00","10:55:00","11:20:00","11:45:00","12:10:00","12:35:00","13:00:00","13:25:00","13:50:00","14:15:00","14:40:00","15:05:00","15:30:00","15:55:00","16:20:00","16:45:00","17:10:00","17:35:00","18:00:00","18:25:00","18:50:00","19:15:00","19:40:00","20:05:00","20:30:00","20:55:00","21:20:00","21:45:00","22:10:00","22:35:00","23:00:00","23:25:00","23:50:00"]}},
  "y": {"field": "value", "type": "quantitative", "scale": {"domain": [-12000, 20000], "nice": false, "zero": false},
    "axis": {"title": null, "values": [-12000, -6000, 0, 6000, 12000, 18000], "format": ",.0f", "domain": false, "ticks": false, "labelPadding": 11, "labelFont": "Lato", "labelFontSize": 12, "labelColor": "#595959", "gridColor": "#d9d9d9", "gridWidth": 1}},
  "color": {"field": "series", "type": "nominal",
    "scale": {"domain": ["MEDIAN", "AVERAGE", "Maximum", "Minimum", "Range"], "range": ["#4472C4", "#ED7D31", "#A5A5A5", "#FFC000", "#A9D18E"]},
    "legend": {"title": null, "orient": "none", "legendX": 1045, "legendY": -52, "symbolType": "stroke", "symbolSize": 1200, "symbolStrokeWidth": 3, "labelFont": "Lato", "labelFontSize": 12, "labelColor": "#595959", "labelOffset": 3, "rowPadding": 0, "padding": 0}},
  "strokeDash": {"field": "series", "type": "nominal",
    "scale": {"domain": ["MEDIAN", "AVERAGE", "Maximum", "Minimum", "Range"], "range": [[1, 0], [1, 0], [3, 3.7], [3, 3.7], [1, 0]]},
    "legend": {"title": null, "orient": "none", "legendX": 1045, "legendY": -52, "symbolType": "stroke", "symbolSize": 1200, "symbolStrokeWidth": 3, "labelFont": "Lato", "labelFontSize": 12, "labelColor": "#595959", "labelOffset": 3, "rowPadding": 0, "padding": 0}}
},
"layer": [
  {"transform": [{"filter": "datum.series === 'MEDIAN'"}], "mark": {"type": "line", "strokeWidth": 3.2}},
  {"transform": [{"filter": "datum.series === 'AVERAGE'"}], "mark": {"type": "line", "strokeWidth": 3.2}},
  {"transform": [{"filter": "datum.series === 'Maximum'"}], "mark": {"type": "line", "strokeWidth": 3}},
  {"transform": [{"filter": "datum.series === 'Minimum'"}], "mark": {"type": "line", "strokeWidth": 3}},
  {"transform": [{"filter": "datum.series === 'Range'"}], "mark": {"type": "line", "strokeWidth": 3}}
]
}
